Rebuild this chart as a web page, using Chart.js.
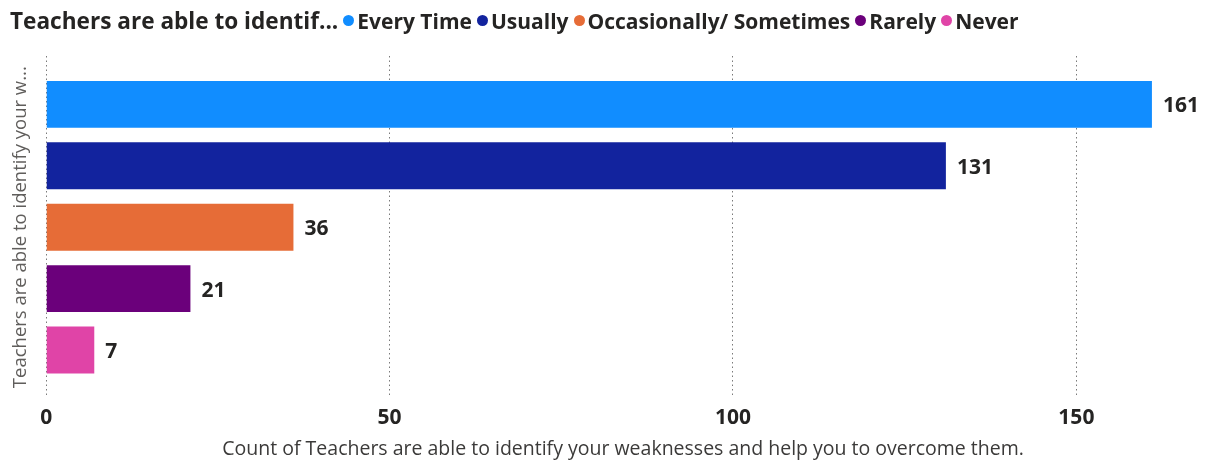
<!DOCTYPE html>
<html>
<head>
<meta charset="utf-8">
<script src="https://cdn.jsdelivr.net/npm/chart.js@4/dist/chart.umd.min.js"></script>
<style>
  html, body { margin: 0; padding: 0; background: #fff; }
  #wrap { position: relative; width: 1208px; height: 461px; }
  #legend { position: absolute; left: 10px; top: 5px; display: flex; align-items: center;
    font-family: "Open Sans", sans-serif; font-weight: 700; font-size: 21px; color: #252423; white-space: nowrap; }
  #legend .title { margin-right: 5px; font-size: 22.6px; }
  #legend .item { display: flex; align-items: center; margin-right: 5px; }
  #legend .dot { width: 11px; height: 11px; border-radius: 50%; margin-right: 3px; }
</style>
</head>
<body>
<div id="wrap">
  <canvas id="c" width="1208" height="461"></canvas>
  <div id="legend"></div>
</div>
<script>
const legendTitle = "Teachers are able to identif...";
const categories = [""];
const seriesNames = ["Every Time", "Usually", "Occasionally/ Sometimes", "Rarely", "Never"];
const seriesValues = [161, 131, 36, 21, 7];
const seriesColors = ["#118DFF", "#12239E", "#E66C37", "#6B007B", "#E044A7"];
const xTicks = [0, 50, 100, 150];
const yTitle = "Teachers are able to identify your w...";
const xTitle = "Count of Teachers are able to identify your weaknesses and help you to overcome them.";

// HTML legend
const lg = document.getElementById('legend');
const t = document.createElement('span'); t.className = 'title'; t.textContent = legendTitle; lg.appendChild(t);
seriesNames.forEach((n, i) => {
  const it = document.createElement('span'); it.className = 'item';
  const d = document.createElement('span'); d.className = 'dot'; d.style.background = seriesColors[i];
  const s = document.createElement('span'); s.textContent = n;
  it.appendChild(d); it.appendChild(s); lg.appendChild(it);
});

const labelPlugin = {
  id: 'barLabels',
  afterDatasetsDraw(chart) {
    const ctx = chart.ctx;
    ctx.save();
    ctx.font = 'bold 21px "Open Sans", sans-serif';
    ctx.fillStyle = '#252423';
    ctx.textBaseline = 'middle';
    ctx.textAlign = 'left';
    chart.data.datasets.forEach((ds, i) => {
      const meta = chart.getDatasetMeta(i);
      meta.data.forEach((el, j) => {
        ctx.fillText(String(ds.data[j]), el.x + 11, el.y + 2);
      });
    });
    ctx.restore();
  }
};

new Chart(document.getElementById('c'), {
  type: 'bar',
  data: {
    labels: categories,
    datasets: seriesNames.map((n, i) => ({
      label: n,
      data: [seriesValues[i]],
      backgroundColor: seriesColors[i],
      borderWidth: 0,
      categoryPercentage: 0.897,
      barPercentage: 0.764
    }))
  },
  options: {
    indexAxis: 'y',
    responsive: false,
    animation: false,
    layout: { padding: { left: 6, right: 8, top: 56, bottom: 0 } },
    plugins: { legend: { display: false }, tooltip: { enabled: false } },
    scales: {
      x: {
        min: 0, max: 168,
        afterBuildTicks(scale) { scale.ticks = xTicks.map(v => ({ value: v })); },
        border: { display: false, dash: [1.5, 3] },
        grid: { color: '#7a7a7a', lineWidth: 1, drawTicks: false },
        ticks: { padding: 7, color: '#252423', font: { family: '"Open Sans", sans-serif', size: 21, weight: 'bold' } },
        title: { display: true, text: xTitle, color: '#3b3a39', padding: { top: 0, bottom: 0 },
                 font: { family: '"Open Sans", sans-serif', size: 19.5 } }
      },
      y: {
        border: { display: false },
        grid: { display: false, drawTicks: false },
        ticks: { display: false },
        title: { display: true, text: yTitle, color: '#605E5C', padding: { top: 4, bottom: 14 },
                 font: { family: '"Open Sans", sans-serif', size: 18.5 } }
      }
    }
  },
  plugins: [labelPlugin]
});
</script>
</body>
</html>
